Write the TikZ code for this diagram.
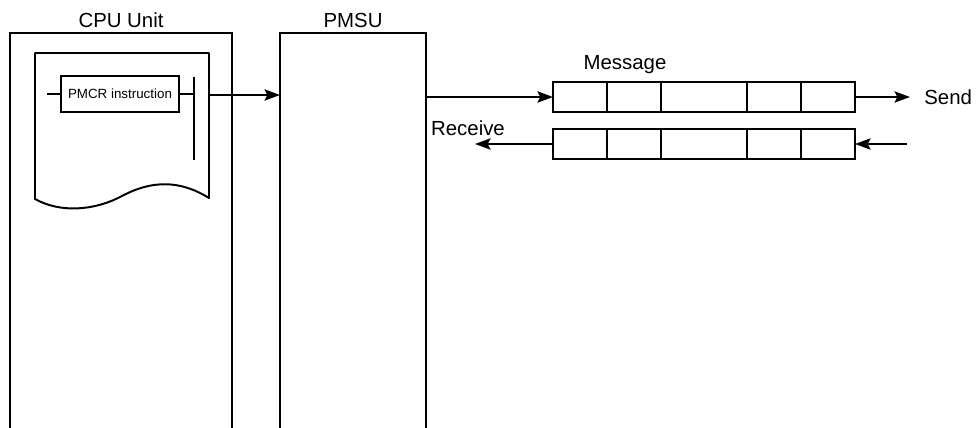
\documentclass[tikz,border=0pt]{standalone}
\usepackage{fontspec}
\setmainfont{Liberation Sans}
\usetikzlibrary{arrows.meta,positioning,calc}
\tikzset{
	unit/.style = {
		draw,
		rectangle,
		anchor=north west,
		minimum height=10cm,
		line width=1.4pt,
		outer sep=0pt
	},
	lbl/.style = {
		font=\fontsize{14.5}{17}\selectfont
	},
	instr/.style = {
		draw,
		rectangle,
		minimum width=2.95cm,
		minimum height=0.9cm,
		inner sep=1pt,
		line width=1.3pt,
		outer sep=0pt,
		font=\fontsize{9.5}{11}\selectfont
	},
	sheet/.style = {
		line width=1.4pt,
		line join=round
	},
	rung/.style = {
		line width=1.3pt
	},
	rail/.style = {
		line width=2pt
	},
	msg/.style = {
		draw,
		rectangle,
		minimum width=7.55cm,
		minimum height=0.75cm,
		line width=2pt,
		outer sep=0pt
	},
	msgline/.style = {
		line width=1.8pt
	},
	signal/.style = {
		-{Stealth[length=11pt,width=8pt,inset=2pt]},
		line width=1.4pt
	}
}
\begin{document}
\begin{tikzpicture}[x=0.025cm, y=-0.025cm]
	\useasboundingbox (0,0) rectangle (978,427);
	\clip (0,0) rectangle (978,427);

	% --- Units ---
	\node [unit, minimum width=5.55cm, label={[lbl]above:CPU Unit}] (cpu) at (10,33) {};
	\node [unit, minimum width=3.65cm, label={[lbl]above:PMSU}] (pmsu) at (280,33) {};

	% --- Program sheet ---
	\draw [sheet] (35,199) -- (35,53) -- (209,53) -- (209,198)
		.. controls (180,180) and (152,180) .. (122,196)
		.. controls (94,211) and (60,213) .. (35,199) -- cycle;

	% --- Ladder rung ---
	\node [instr] (pmcr) at (120,94) {PMCR instruction};
	\coordinate (railL) at (47,94);
	\coordinate (barTop) at (194,77);
	\coordinate (barBot) at (194,160);
	\coordinate (sheetR) at (209,95);
	\draw [rung] (railL) -- (pmcr.west);
	\draw [rung] (pmcr.east) -- (pmcr.east -| barTop);
	\draw [rail] (barTop) -- (barBot);
	\draw [signal] (sheetR) -- (sheetR -| pmsu.west);

	% --- Messages ---
	\node [msg] (sendmsg) at (704,97) {};
	\node [msg] (recvmsg) at (704,144) {};
	\foreach \m in {sendmsg,recvmsg}
		\foreach \d in {54,108,194,248}
			\draw [msgline] ($(\m.north west)+(\d,0)$) -- ($(\m.south west)+(\d,0)$);

	\node [lbl] (msglabel) at (625,65) {Message};
	\node [lbl, anchor=west, inner xsep=10pt] (send) at (910,97) {Send};
	\node [lbl] (recv) at (468,128) {Receive};
	\coordinate (recvIn) at (907,144);
	\coordinate (recvOut) at (475,144);

	% --- Connections ---
	\draw [signal] (sendmsg.west -| pmsu.east) -- (sendmsg.west);
	\draw [signal] (sendmsg.east) -- (send.west);
	\draw [signal] (recvIn) -- (recvmsg.east);
	\draw [signal] (recvmsg.west) -- (recvOut);

\end{tikzpicture}
\end{document}
